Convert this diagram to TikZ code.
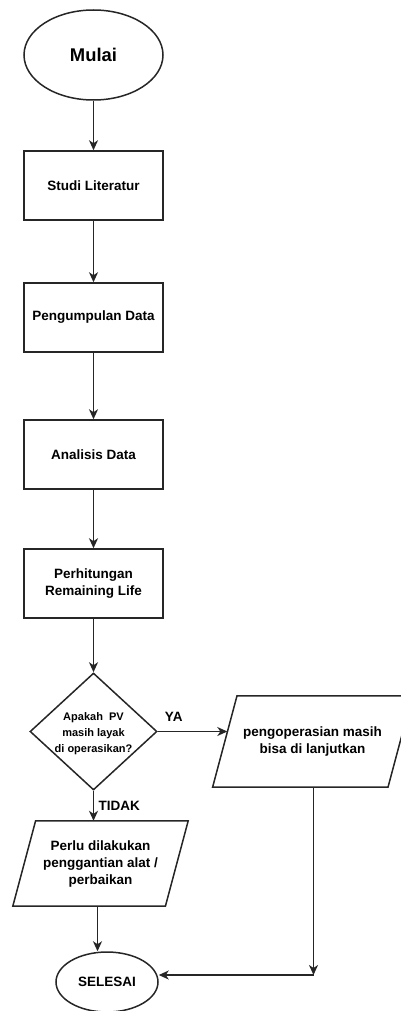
\documentclass[tikz,border=0pt]{standalone}
\usepackage{fontspec}
\setmainfont{Liberation Sans}
\usetikzlibrary{shapes.geometric,arrows.meta}
\tikzset{
  x=1pt,y=1pt,
  every node/.style={font=\bfseries\fontsize{13.5}{17}\selectfont, align=center},
  arr/.style={-{Stealth[length=10pt,width=9pt,inset=3pt]}, line width=1.6pt, draw=black!85},
  shapeline/.style={draw=black!85, line width=1.5pt},
  terminal/.style={ellipse, shapeline, inner sep=0pt},
  procbox/.style={rectangle, shapeline, minimum width=139pt, minimum height=69pt, inner sep=0pt},
  decision/.style={diamond, shapeline, minimum width=127pt, minimum height=117pt, inner sep=0pt},
  iotext/.style={rectangle, inner sep=0pt},
  lbl/.style={font=\bfseries\fontsize{13.5}{17}\selectfont}
}
\begin{document}
\begin{tikzpicture}
\useasboundingbox (0,0) rectangle (401,-1011);
\node[terminal, minimum width=139pt, minimum height=90pt, font=\bfseries\fontsize{18.4}{22}\selectfont] (mulai) at (93.5,-55) {Mulai};
\node[procbox] (studi) at (93.5,-185.5) {Studi Literatur};
\node[procbox] (kumpul) at (93.5,-317.5) {Pengumpulan Data};
\node[procbox] (analisis) at (93.5,-454.5) {Analisis Data};
\node[procbox] (hitung) at (93.5,-583.5) {Perhitungan\\Remaining Life};
\node[decision] (dec) at (93.5,-731.5) {};
\node[font=\bfseries\fontsize{11}{16}\selectfont] (dectext) at (93.5,-734) {Apakah\ \ PV\\masih layak\\di operasikan?};
% parallelograms: text node = top width x height, outline slanted by half the slant
\node[iotext, minimum width=175pt, minimum height=91pt] (lanjut) at (312.5,-741.5) {pengoperasian masih\\bisa di lanjutkan};
\draw[shapeline] ([xshift=12.2pt]lanjut.north west) -- ([xshift=12.2pt]lanjut.north east)
  -- ([xshift=-12.2pt]lanjut.south east) -- ([xshift=-12.2pt]lanjut.south west) -- cycle;
\node[iotext, minimum width=152.2pt, minimum height=85pt] (ganti) at (100.5,-863.5) {Perlu dilakukan\\penggantian alat /\\perbaikan};
\draw[shapeline] ([xshift=11.4pt]ganti.north west) -- ([xshift=11.4pt]ganti.north east)
  -- ([xshift=-11.4pt]ganti.south east) -- ([xshift=-11.4pt]ganti.south west) -- cycle;
\node[terminal, minimum width=102pt, minimum height=60pt] (selesai) at (107,-982) {SELESAI};
\coordinate (corner) at (313.5,-975);

\draw[arr] (mulai) -- (studi);
\draw[arr] (studi) -- (kumpul);
\draw[arr] (kumpul) -- (analisis);
\draw[arr] (analisis) -- (hitung);
\draw[arr] (hitung) -- (dec);
\draw[arr] (dec.east) -- ([xshift=2.5pt]dec.east -| lanjut.west) node[lbl, pos=0.23, above=6pt] (ya) {YA};
\draw[arr] (dec.south) -- (dec.south |- ganti.north) node[lbl, midway, right=1pt, anchor=west] (tidak) {TIDAK};
\draw[arr] ([xshift=-3pt]ganti.south) -- ([xshift=-3pt]ganti.south |- selesai.north);
\draw[arr] (lanjut.south -| corner) -- (corner);
\draw[arr] (corner) -- (corner -| selesai.east);
\end{tikzpicture}
\end{document}
